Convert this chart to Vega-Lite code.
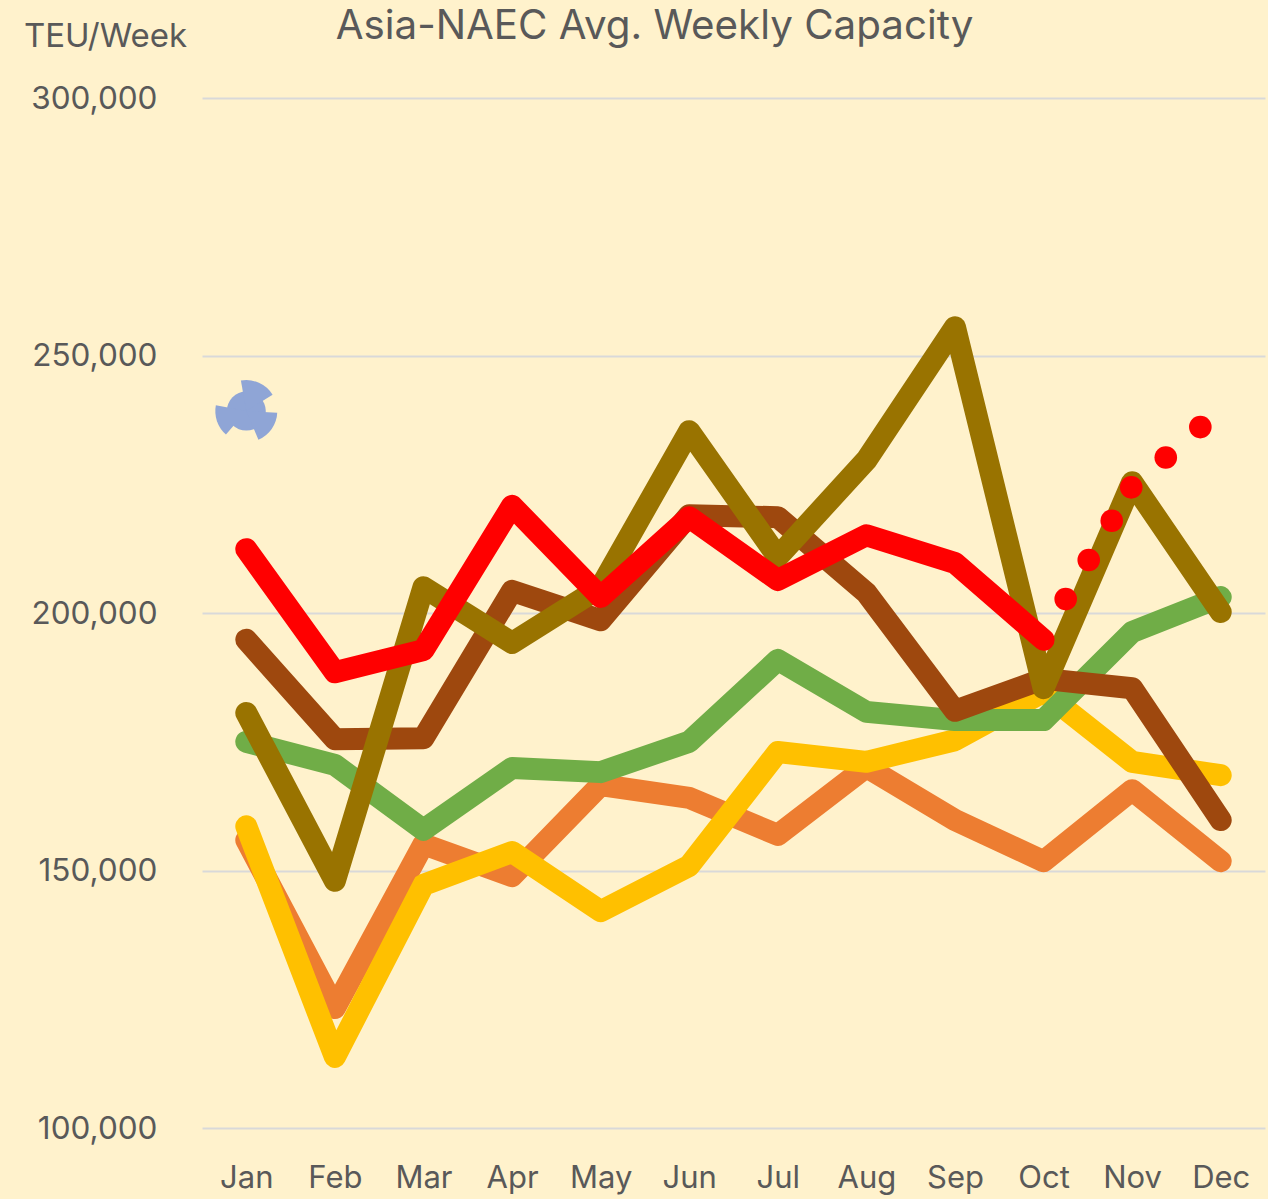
{
"$schema":"https://vega.github.io/schema/vega-lite/v6.json",
"width":1063,"height":1030,
"autosize":{"type":"none"},
"padding":{"left":202,"top":98,"right":3,"bottom":71},
"background":"#FFF2CC",
"config":{"view":{"stroke":null},"font":"Inter"},
"title":{"text":"Asia-NAEC Avg. Weekly Capacity","anchor":"middle","frame":"group","dx":-79,"dy":27,"offset":0,"fontSize":40.3,"fontWeight":"normal","color":"#595959","font":"Inter"},
"datasets":{
"lines":[
{"series":"Orange","month":0,"teu":155900},{"series":"Orange","month":1,"teu":123300},{"series":"Orange","month":2,"teu":155100},{"series":"Orange","month":3,"teu":148900},{"series":"Orange","month":4,"teu":166600},{"series":"Orange","month":5,"teu":164100},{"series":"Orange","month":6,"teu":156900},{"series":"Orange","month":7,"teu":170100},{"series":"Orange","month":8,"teu":159800},{"series":"Orange","month":9,"teu":151800},{"series":"Orange","month":10,"teu":165600},{"series":"Orange","month":11,"teu":151800},
{"series":"Yellow","month":0,"teu":158600},{"series":"Yellow","month":1,"teu":113800},{"series":"Yellow","month":2,"teu":147200},{"series":"Yellow","month":3,"teu":153600},{"series":"Yellow","month":4,"teu":142100},{"series":"Yellow","month":5,"teu":150900},{"series":"Yellow","month":6,"teu":173000},{"series":"Yellow","month":7,"teu":171100},{"series":"Yellow","month":8,"teu":175300},{"series":"Yellow","month":9,"teu":184700},{"series":"Yellow","month":10,"teu":171100},{"series":"Yellow","month":11,"teu":168500},
{"series":"Green","month":0,"teu":175000},{"series":"Green","month":1,"teu":170500},{"series":"Green","month":2,"teu":157900},{"series":"Green","month":3,"teu":169900},{"series":"Green","month":4,"teu":169100},{"series":"Green","month":5,"teu":175000},{"series":"Green","month":6,"teu":190900},{"series":"Green","month":7,"teu":180800},{"series":"Green","month":8,"teu":179200},{"series":"Green","month":9,"teu":179200},{"series":"Green","month":10,"teu":196300},{"series":"Green","month":11,"teu":203100},
{"series":"Brown","month":0,"teu":194800},{"series":"Brown","month":1,"teu":175500},{"series":"Brown","month":2,"teu":175700},{"series":"Brown","month":3,"teu":204300},{"series":"Brown","month":4,"teu":198600},{"series":"Brown","month":5,"teu":219000},{"series":"Brown","month":6,"teu":218600},{"series":"Brown","month":7,"teu":203900},{"series":"Brown","month":8,"teu":181000},{"series":"Brown","month":9,"teu":187200},{"series":"Brown","month":10,"teu":185400},{"series":"Brown","month":11,"teu":159800},
{"series":"Olive","month":0,"teu":180600},{"series":"Olive","month":1,"teu":148000},{"series":"Olive","month":2,"teu":205000},{"series":"Olive","month":3,"teu":194200},{"series":"Olive","month":4,"teu":205000},{"series":"Olive","month":5,"teu":235300},{"series":"Olive","month":6,"teu":210900},{"series":"Olive","month":7,"teu":229700},{"series":"Olive","month":8,"teu":255500},{"series":"Olive","month":9,"teu":185400},{"series":"Olive","month":10,"teu":225400},{"series":"Olive","month":11,"teu":200200},
{"series":"Red","month":0,"teu":212400},{"series":"Red","month":1,"teu":188500},{"series":"Red","month":2,"teu":192800},{"series":"Red","month":3,"teu":220800},{"series":"Red","month":4,"teu":203100},{"series":"Red","month":5,"teu":218600},{"series":"Red","month":6,"teu":206400},{"series":"Red","month":7,"teu":215100},{"series":"Red","month":8,"teu":209700},{"series":"Red","month":9,"teu":194800}
],
"forecast":[
{"month":9.25,"teu":202700},{"month":9.51,"teu":210300},{"month":9.77,"teu":217900},{"month":9.99,"teu":224400},{"month":10.38,"teu":230200},{"month":10.77,"teu":236100}
],
"sectors":[
{"month":0,"teu":239200,"start":-0.175,"end":1.012},
{"month":0,"teu":239200,"start":1.623,"end":2.74},
{"month":0,"teu":239200,"start":3.857,"end":4.904}
],
"hub":[{"month":0,"teu":239200}]
},
"encoding":{
"x":{"field":"month","type":"quantitative","scale":{"domain":[-0.5,11.5],"nice":false,"zero":false},
"axis":{"values":[0,1,2,3,4,5,6,7,8,9,10,11],"labelExpr":"['Jan','Feb','Mar','Apr','May','Jun','Jul','Aug','Sep','Oct','Nov','Dec'][datum.value]","title":null,"grid":false,"domain":false,"ticks":false,"labelFontSize":31,"labelColor":"#595959","labelPadding":35,"labelFont":"Inter","labelAngle":0,"labelOverlap":false,"labelFlush":false}},
"y":{"field":"teu","type":"quantitative","scale":{"domain":[100000,300000],"nice":false,"zero":false},
"axis":{"values":[100000,150000,200000,250000,300000],"labelExpr":"format(datum.value, ',d')","domain":false,"ticks":false,"grid":true,"gridColor":"#D9D9D9","gridWidth":2,"labelFontSize":31.5,"labelOffset":1,"labelColor":"#595959","labelPadding":45,"labelFont":"Inter","title":"TEU/Week","titleAngle":0,"titleFontSize":33,"titleFontWeight":"normal","titleColor":"#595959","titleFont":"Inter","titleX":-97,"titleY":-62,"titleAlign":"center","titleBaseline":"middle"}}
},
"layer":[
{"data":{"name":"lines"},
"mark":{"type":"line","strokeWidth":22,"strokeCap":"round","strokeJoin":"round"},
"encoding":{"color":{"field":"series","type":"nominal","legend":null,"sort":null,"scale":{"domain":["Orange","Yellow","Green","Brown","Olive","Red"],"range":["#ED7D31","#FFC000","#70AD47","#9E480E","#997300","#FF0000"]}}}},
{"data":{"name":"forecast"},"mark":{"type":"point","shape":"circle","filled":true,"opacity":1,"size":511,"color":"#FF0000"}},
{"data":{"name":"hub"},"mark":{"type":"point","shape":"circle","filled":true,"opacity":1,"size":1521,"color":"#8FA5D6"}},
{"data":{"name":"sectors"},"mark":{"type":"arc","outerRadius":31,"innerRadius":0,"color":"#8FA5D6"},
"encoding":{"theta":{"field":"start","type":"quantitative","scale":null,"stack":null},"theta2":{"field":"end"}}}
]
}
